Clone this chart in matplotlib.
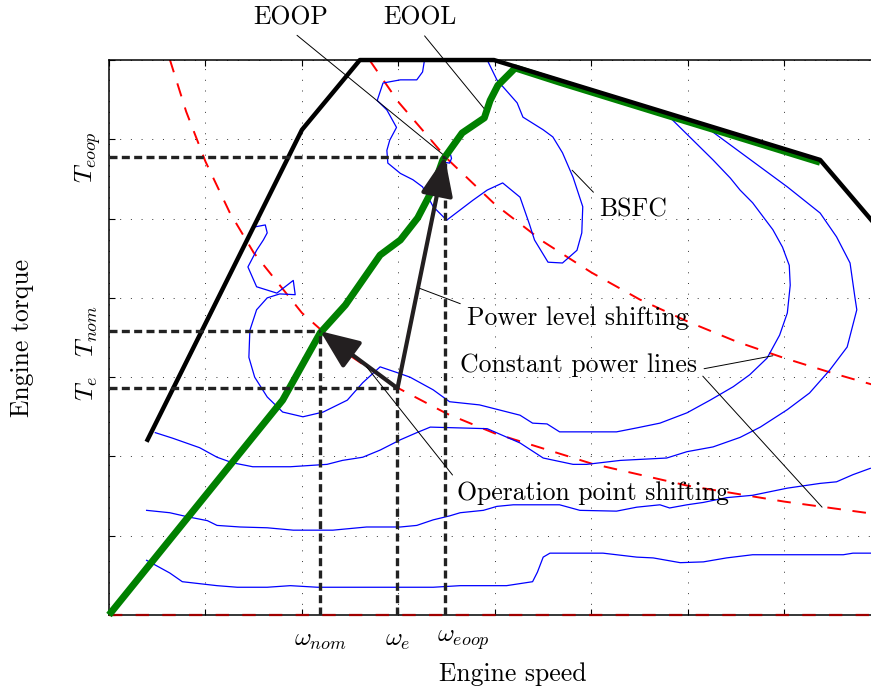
import matplotlib
matplotlib.use("Agg")
import matplotlib.pyplot as plt

plt.rcParams['font.family'] = ['cmr10', 'DejaVu Serif']
plt.rcParams['mathtext.fontset'] = 'cm'
plt.rcParams['axes.formatter.use_mathtext'] = True

# operating points (speed / torque in grid units)
x_nom, T_nom = 2.19, 3.58
x_e, T_e = 2.99, 2.86
x_eoop, T_eoop = 3.48, 5.78

# max torque curve
max_x = [0.40, 2.00, 2.60, 3.99, 7.37, 8.00]
max_y = [2.21, 6.12, 7.00, 7.00, 5.74, 4.84]

# optimal operating line (EOOL)
eool_x = [0.00, 1.80, 2.19, 2.45, 2.81, 3.02, 3.20, 3.35, 3.46, 3.66, 3.89, 3.95, 4.03, 4.21, 4.67, 5.71, 6.33, 7.37]
eool_y = [0.00, 2.71, 3.56, 3.91, 4.54, 4.73, 5.01, 5.36, 5.74, 6.08, 6.27, 6.49, 6.68, 6.90, 6.72, 6.33, 6.10, 5.71]

# constant power lines
pw1_x = [0.63, 0.80, 1.00, 1.25, 1.50, 2.00, 2.50, 3.00, 3.50, 4.00, 5.00, 6.00, 7.00, 7.90]
pw1_y = [7.01, 6.35, 5.72, 5.08, 4.57, 3.81, 3.27, 2.86, 2.54, 2.29, 1.91, 1.63, 1.43, 1.28]
pw2_x = [2.70, 3.00, 3.50, 4.00, 4.50, 5.00, 5.50, 6.00, 6.50, 7.00, 7.50, 7.90]
pw2_y = [7.00, 6.47, 5.76, 5.18, 4.71, 4.32, 3.98, 3.70, 3.45, 3.24, 3.05, 2.91]
pw0_x = [0.0, 8.0]
pw0_y = [0.0, 0.0]

# BSFC contours
c1_x = [3.46, 3.53, 3.55, 3.53, 3.48, 3.46]
c1_y = [5.79, 5.85, 5.76, 5.70, 5.71, 5.79]

c2_x = [3.27, 3.25, 3.19, 3.02, 2.84, 2.78, 2.88, 2.98, 2.91, 2.88, 2.89, 3.02, 3.15, 3.25, 3.36, 3.50, 3.77, 3.92,
        4.08, 4.26, 4.36, 4.41, 4.55, 4.70, 4.85, 4.90, 4.91, 4.81, 4.70, 4.60, 4.50, 4.29, 4.23, 4.02, 3.92]
c2_y = [7.00, 6.85, 6.75, 6.75, 6.71, 6.49, 6.37, 6.15, 5.99, 5.86, 5.70, 5.57, 5.49, 5.40, 5.15, 4.98, 5.23, 5.36,
        5.45, 5.27, 4.92, 4.73, 4.45, 4.44, 4.60, 4.82, 5.15, 5.52, 5.83, 6.03, 6.12, 6.28, 6.46, 6.75, 7.00]

c3_x = [1.49, 1.62, 1.64, 1.60, 1.53, 1.44, 1.53, 1.74, 1.91, 1.93, 1.77, 1.64, 1.53, 1.46, 1.45, 1.51, 1.64, 1.80,
        2.01, 2.22, 2.47, 2.63, 2.81, 2.98, 3.12, 3.36, 3.53, 3.84, 4.26, 4.39, 4.54, 4.67, 5.26, 5.47, 5.71, 5.99,
        6.23, 6.47, 6.64, 6.82, 6.95, 7.03, 7.06, 7.05, 6.98, 6.88, 6.67, 6.54, 6.44, 6.26, 5.81]
c3_y = [4.89, 4.92, 4.82, 4.73, 4.60, 4.39, 4.14, 4.06, 4.22, 4.04, 4.05, 4.00, 3.85, 3.59, 3.25, 3.00, 2.75, 2.56,
        2.50, 2.56, 2.71, 2.93, 3.13, 3.06, 3.00, 2.84, 2.69, 2.65, 2.52, 2.42, 2.41, 2.31, 2.31, 2.36, 2.42, 2.55,
        2.71, 2.88, 3.03, 3.24, 3.53, 3.81, 4.16, 4.41, 4.64, 4.86, 5.20, 5.36, 5.51, 5.74, 6.28]

c4_x = [0.48, 0.66, 0.94, 1.12, 1.28, 1.49, 1.88, 2.26, 2.42, 2.63, 2.81, 3.02, 3.19, 3.33, 3.92, 4.26, 4.50, 4.81,
        4.95, 5.30, 5.78, 5.99, 6.26, 6.54, 6.75, 7.03, 7.26, 7.47, 7.65, 7.75, 7.73, 7.68, 7.54, 7.37, 7.03, 6.26]
c4_y = [2.30, 2.23, 2.11, 1.99, 1.92, 1.87, 1.87, 1.90, 1.95, 1.99, 2.08, 2.21, 2.30, 2.37, 2.35, 2.17, 1.98, 1.90,
        1.90, 1.95, 1.98, 2.06, 2.12, 2.24, 2.37, 2.59, 2.80, 3.09, 3.38, 3.85, 4.01, 4.44, 4.77, 5.07, 5.40, 6.09]

c5_x = [0.39, 0.63, 0.81, 1.02, 1.12, 1.36, 1.64, 1.91, 2.32, 2.67, 3.02, 3.19, 3.36, 3.53, 3.64, 3.88, 4.02,
        4.19, 4.67, 4.88, 5.26, 5.47, 5.71, 5.81, 5.99, 6.16, 6.40, 6.67, 7.03, 7.37, 7.54, 7.71, 7.89]
c5_y = [1.32, 1.29, 1.24, 1.19, 1.13, 1.11, 1.10, 1.07, 1.07, 1.11, 1.11, 1.13, 1.20, 1.25, 1.29, 1.32, 1.37,
        1.39, 1.39, 1.32, 1.31, 1.36, 1.39, 1.35, 1.39, 1.42, 1.48, 1.51, 1.60, 1.66, 1.68, 1.77, 1.85]

c6_x = [0.39, 0.63, 0.76, 1.12, 1.33, 1.64, 1.88, 2.16, 3.36, 3.64, 4.12, 4.39, 4.44, 4.50, 4.57, 5.12, 5.47,
        5.64, 5.92, 6.16, 6.40, 6.67, 7.61, 7.71, 7.90]
c6_y = [0.69, 0.53, 0.42, 0.37, 0.35, 0.35, 0.37, 0.35, 0.35, 0.37, 0.37, 0.42, 0.54, 0.73, 0.78, 0.78, 0.73,
        0.72, 0.66, 0.67, 0.72, 0.76, 0.76, 0.78, 0.78]

contours = [(c1_x, c1_y), (c2_x, c2_y), (c3_x, c3_y), (c4_x, c4_y), (c5_x, c5_y), (c6_x, c6_y)]

fig = plt.figure(figsize=(8.71, 6.90), dpi=100)
ax = fig.add_axes([0.1251, 0.1087, 0.8863, 0.8043])
ax.set_xlim(0, 8)
ax.set_ylim(0, 7)
ax.set_xticks(range(0, 9))
ax.set_yticks(range(0, 8))
ax.set_xticklabels([])
ax.set_yticklabels([])
ax.tick_params(direction='in', length=4, width=0.8, top=True, right=True)
ax.grid(True, color='#333333', linestyle=(0, (1, 10)), linewidth=0.7)
for s in ax.spines.values():
    s.set_linewidth(1.1)

red_kw = dict(color='#ff0000', lw=1.4, dashes=(7, 6))
ax.plot(pw1_x, pw1_y, **red_kw)
ax.plot(pw2_x, pw2_y, **red_kw)
ax.plot(pw0_x, pw0_y, color='#a00000', lw=1.6, dashes=(6, 6), clip_on=False, zorder=3)

for cx, cy in contours:
    ax.plot(cx, cy, color='#0000ff', lw=0.9)

ax.plot(eool_x, eool_y, color='#008000', lw=5, solid_capstyle='butt', zorder=4, clip_on=False)
ax.plot(max_x, max_y, color='black', lw=3.2, zorder=5, clip_on=False)

guide_kw = dict(color='#222222', lw=2.4, dashes=(2.4, 1.3), zorder=6)
for gx, gy in [(x_eoop, T_eoop), (x_nom, T_nom), (x_e, T_e)]:
    ax.plot([0, gx], [gy, gy], **guide_kw)
    ax.plot([gx, gx], [0, gy], **guide_kw)

arr_kw = dict(arrowstyle='-|>,head_length=1.2,head_width=0.5', mutation_scale=20,
              lw=3, color='#231f20', shrinkA=0, shrinkB=0)
ax.annotate('', xy=(x_nom, T_nom), xytext=(x_e, T_e), arrowprops=arr_kw, zorder=7)
ax.annotate('', xy=(x_eoop, T_eoop), xytext=(x_e, T_e), arrowprops=arr_kw, zorder=7)

fs = 18.5
lead = dict(arrowstyle='-', color='black', lw=0.7, shrinkA=3, shrinkB=0)
ax.annotate('EOOP', xy=(3.47, 5.80), xytext=(1.88, 7.53), ha='center', va='center', fontsize=fs,
            arrowprops=dict(lead, relpos=(0.5, 0)), annotation_clip=False)
ax.annotate('EOOL', xy=(3.92, 6.34), xytext=(3.22, 7.53), ha='center', va='center', fontsize=fs,
            arrowprops=dict(lead, relpos=(0.5, 0)), annotation_clip=False)
ax.annotate('BSFC', xy=(4.80, 5.61), xytext=(5.43, 5.11), ha='center', va='center', fontsize=fs,
            arrowprops=dict(lead, relpos=(0.0, 1.0)), zorder=8)
ax.annotate('Power level shifting', xy=(3.22, 4.12), xytext=(3.71, 3.745), ha='left', va='center',
            fontsize=fs, arrowprops=dict(lead, relpos=(0.0, 1.0)), zorder=8)
ax.annotate('Constant power lines', xy=(6.88, 3.27), xytext=(3.64, 3.15), ha='left', va='center',
            fontsize=fs, arrowprops=dict(lead, relpos=(1.0, 0.3)), zorder=8)
ax.annotate('Constant power lines', xy=(7.39, 1.36), xytext=(3.64, 3.15), ha='left', va='center',
            fontsize=fs, arrowprops=dict(lead, relpos=(1.0, 0.3)), zorder=8, color='none')
ax.annotate('Operation point shifting', xy=(2.67, 3.13), xytext=(3.61, 1.54), ha='left', va='center',
            fontsize=fs, arrowprops=dict(lead, relpos=(0.0, 1.0)), zorder=8)

ax.text(x_nom, -0.32, r'$\omega_{nom}$', ha='center', va='center', fontsize=fs, clip_on=False)
ax.text(x_e, -0.32, r'$\omega_{e}$', ha='center', va='center', fontsize=fs, clip_on=False)
ax.text(3.40, -0.32, r'$\omega_{eoop}$', ha='left', va='center', fontsize=fs, clip_on=False)
ax.text(-0.22, T_eoop, r'$T_{eoop}$', ha='center', va='center', rotation=90, fontsize=fs, clip_on=False)
ax.text(-0.22, T_nom, r'$T_{nom}$', ha='center', va='center', rotation=90, fontsize=fs, clip_on=False)
ax.text(-0.22, T_e, r'$T_{e}$', ha='center', va='center', rotation=90, fontsize=fs, clip_on=False)

ax.text(0.523, -0.106, 'Engine speed', transform=ax.transAxes, ha='center', va='center', fontsize=fs)
ax.text(-0.113, 0.499, 'Engine torque', transform=ax.transAxes, ha='center', va='center',
        rotation=90, fontsize=fs)

fig.savefig('out.png', dpi=100)
